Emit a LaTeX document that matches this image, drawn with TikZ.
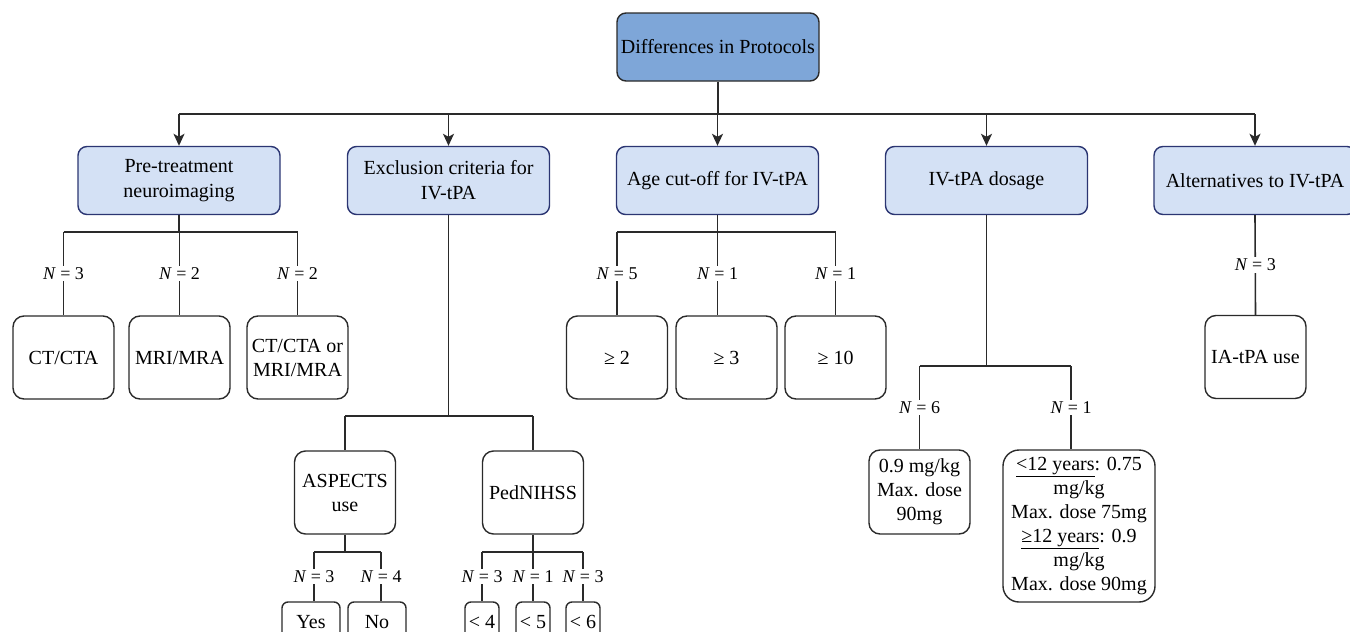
\documentclass[tikz,border=0pt]{standalone}
\usepackage{fontspec}
\setmainfont{Liberation Serif}
\usetikzlibrary{arrows.meta}
\definecolor{rootfill}{HTML}{7EA6D8}
\definecolor{hdrfill}{HTML}{D4E1F5}
\definecolor{hdrdraw}{HTML}{2B3572}
\definecolor{ln}{HTML}{2A2A2A}
\begin{document}
\begin{tikzpicture}[x=1pt,y=-1pt,
 rootbox/.style={draw=ln, line width=1.4pt, fill=rootfill, rounded corners=9pt, minimum width=202pt, minimum height=68pt, inner sep=1pt, align=center, font=\fontsize{20}{24}\selectfont},
 hdr/.style={draw=hdrdraw, line width=1.4pt, fill=hdrfill, rounded corners=9pt, minimum width=202pt, minimum height=68pt, inner sep=1pt, align=center, font=\fontsize{20}{25}\selectfont},
 leaf/.style={draw=ln, line width=1.4pt, fill=white, rounded corners=11pt, minimum width=101pt, minimum height=83pt, inner sep=1pt, align=center, font=\fontsize{20}{24}\selectfont},
 small/.style={leaf, rounded corners=6pt, minimum height=40pt},
 lab/.style={fill=white, inner sep=1.5pt, font=\fontsize{18}{20}\selectfont},
 conn/.style={draw=ln, line width=1.6pt},
 arr/.style={conn, -{Stealth[length=12pt,width=11pt,inset=3pt]}}
]
\useasboundingbox (0,0) rectangle (1350,632);

% root
\node[rootbox] (root) at (718,47) {Differences in Protocols};

% headers
\node[hdr] (h1) at (179,180.5) {Pre-treatment\\neuroimaging};
\node[hdr] (h2) at (448.5,180.5) {Exclusion criteria for\\IV-tPA};
\node[hdr] (h3) at (717.5,180.5) {Age cut-off for IV-tPA};
\node[hdr] (h4) at (986.5,180.5) {IV-tPA dosage};
\node[hdr] (h5) at (1255,180.5) {Alternatives to IV-tPA};

% root connectors
\coordinate (bus) at (0,114);
\draw[conn] (root.south) -- (root.south |- bus);
\draw[conn] (h1.north |- bus) -- (h5.north |- bus);
\foreach \h in {h1,h2,h3,h4,h5}{
  \draw[arr] (\h.north |- bus) -- (\h.north);
}

% group 1: neuroimaging
\node[leaf] (n1) at (63.5,357.5) {CT/CTA};
\node[leaf] (n2) at (179.5,357.5) {MRI/MRA};
\node[leaf] (n3) at (297.5,357.5) {CT/CTA or\\MRI/MRA};
\coordinate (b1) at (0,232);
\draw[conn] (h1.south) -- (h1.south |- b1);
\draw[conn] (n1.north |- b1) -- (n3.north |- b1);
\draw[conn] (n1.north |- b1) -- node[lab]{\textit{N} = 3} (n1.north);
\draw[conn] (n2.north |- b1) -- node[lab]{\textit{N} = 2} (n2.north);
\draw[conn] (n3.north |- b1) -- node[lab]{\textit{N} = 2} (n3.north);

% group 2: exclusion criteria
\node[leaf] (e1) at (345,492.5) {ASPECTS\\use};
\node[leaf] (e2) at (533,492.5) {PedNIHSS};
\coordinate (b2) at (0,416);
\draw[conn] (h2.south) -- (h2.south |- b2);
\draw[conn] (e1.north |- b2) -- (e2.north |- b2);
\draw[conn] (e1.north |- b2) -- (e1.north);
\draw[conn] (e2.north |- b2) -- (e2.north);

\node[small, minimum width=58pt] (y1) at (311,622) {Yes};
\node[small, minimum width=58pt] (y2) at (377,622) {No};
\coordinate (b3) at (0,552);
\draw[conn] (e1.south) -- (e1.south |- b3);
\draw[conn] ([xshift=3pt]y1.north |- b3) -- ([xshift=4pt]y2.north |- b3);
\draw[conn] ([xshift=3pt]y1.north |- b3) -- node[lab]{\textit{N} = 3} ([xshift=3pt]y1.north);
\draw[conn] ([xshift=4pt]y2.north |- b3) -- node[lab]{\textit{N} = 4} ([xshift=4pt]y2.north);

\node[small, minimum width=34pt, inner sep=0pt] (p1) at (482,622) {< 4};
\node[small, minimum width=34pt, inner sep=0pt] (p2) at (533,622) {< 5};
\node[small, minimum width=34pt, inner sep=0pt] (p3) at (583,622) {< 6};
\draw[conn] (e2.south) -- (e2.south |- b3);
\draw[conn] (p1.north |- b3) -- (p3.north |- b3);
\draw[conn] (p1.north |- b3) -- node[lab]{\textit{N} = 3} (p1.north);
\draw[conn] (p2.north |- b3) -- node[lab]{\textit{N} = 1} (p2.north);
\draw[conn] (p3.north |- b3) -- node[lab]{\textit{N} = 3} (p3.north);

% group 3: age
\node[leaf] (a1) at (617,357.5) {≥ 2};
\node[leaf] (a2) at (726.5,357.5) {≥ 3};
\node[leaf] (a3) at (835.5,357.5) {≥ 10};
\draw[conn] (h3.south) -- (h3.south |- b1);
\draw[conn] (a1.north |- b1) -- (a3.north |- b1);
\draw[conn] (a1.north |- b1) -- node[lab]{\textit{N} = 5} (a1.north);
\draw[conn] ([xshift=-9pt]a2.north |- b1) -- node[lab]{\textit{N} = 1} ([xshift=-9pt]a2.north);
\draw[conn] (a3.north |- b1) -- node[lab]{\textit{N} = 1} (a3.north);

% group 4: dosage
\node[leaf, minimum height=84pt] (d1) at (919.5,492) {0.9 mg/kg\\Max. dose\\90mg};
\node[leaf, minimum width=152pt, minimum height=152pt, rounded corners=16pt] (d2) at (1079,526)
  {\underline{<12 years}: 0.75\\mg/kg\\Max. dose 75mg\\\underline{≥12 years}: 0.9\\mg/kg\\Max. dose 90mg};
\coordinate (b4) at (0,366);
\draw[conn] (h4.south) -- (h4.south |- b4);
\draw[conn] (d1.north |- b4) -- ([xshift=-8pt]d2.north |- b4);
\draw[conn] (d1.north |- b4) -- node[lab]{\textit{N} = 6} (d1.north);
\draw[conn] ([xshift=-8pt]d2.north |- b4) -- node[lab]{\textit{N} = 1} ([xshift=-8pt]d2.north);

% group 5: alternatives
\node[leaf] (t1) at (1255.5,357) {IA-tPA use};
\draw[conn] (h5.south) -- node[lab]{\textit{N} = 3} (t1.north);
\end{tikzpicture}
\end{document}
